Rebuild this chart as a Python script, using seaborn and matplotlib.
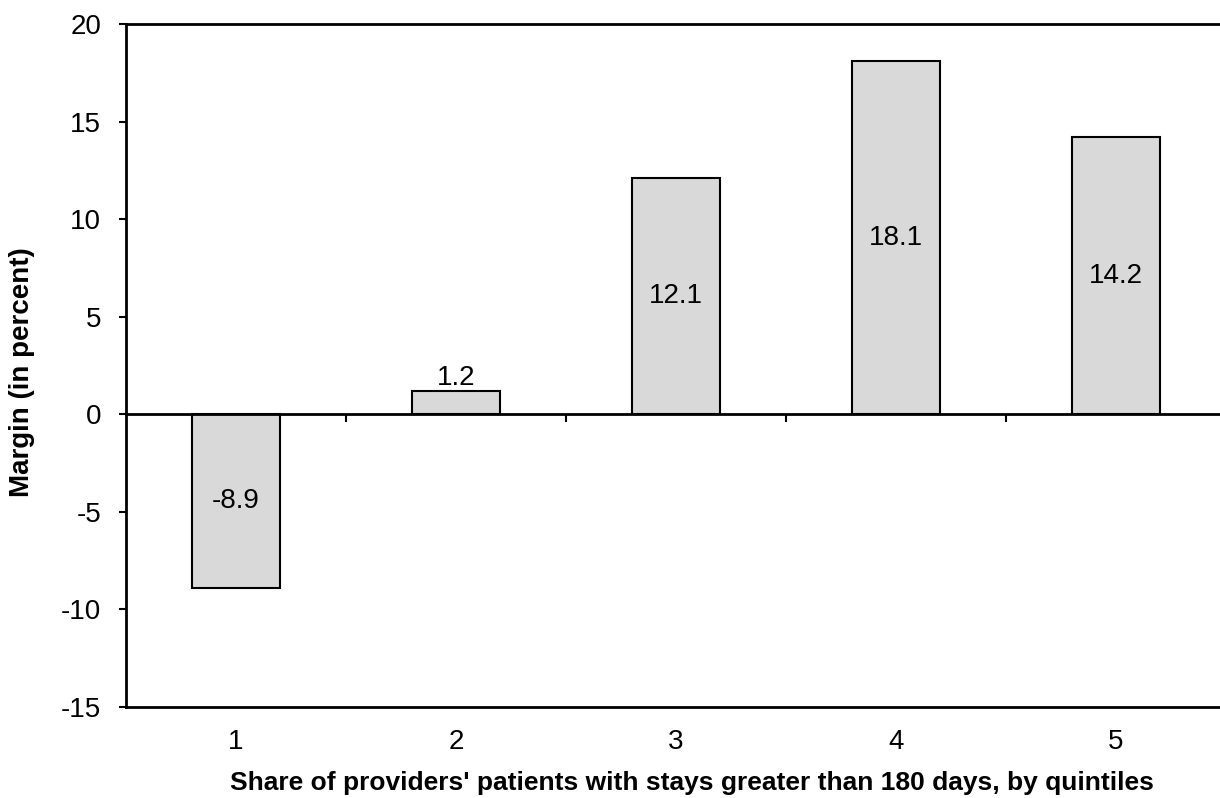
import matplotlib
matplotlib.use("Agg")
import matplotlib.pyplot as plt
import seaborn as sns
import pandas as pd

# Data
quintiles = ["1", "2", "3", "4", "5"]
margins = [-8.9, 1.2, 12.1, 18.1, 14.2]
y_ticks = [-15, -10, -5, 0, 5, 10, 15, 20]
x_label = "Share of providers' patients with stays greater than 180 days, by quintiles"
y_label = "Margin (in percent)"

sns.set_style("white")
plt.rcParams["font.family"] = ["Liberation Sans", "DejaVu Sans"]
plt.rcParams["text.color"] = "black"
plt.rcParams["axes.labelcolor"] = "black"

FS = 20

df = pd.DataFrame({"quintile": quintiles, "margin": margins})

fig = plt.figure(figsize=(12.2, 7.98), dpi=100)
ax = fig.add_axes([126 / 1220, 91 / 798, 1100 / 1220, 683 / 798])

sns.barplot(data=df, x="quintile", y="margin", order=quintiles,
            color="#d9d9d9", saturation=1, edgecolor="black",
            linewidth=1.5, width=0.4, ax=ax)

ax.set_xlim(-0.5, len(quintiles) - 0.5)
ax.set_ylim(min(y_ticks), max(y_ticks))
ax.set_yticks(y_ticks)
ax.set_yticklabels([str(t) for t in y_ticks])

for side in ["left", "top", "bottom"]:
    ax.spines[side].set_visible(True)
    ax.spines[side].set_linewidth(2)
    ax.spines[side].set_color("black")
ax.spines["right"].set_visible(False)

ax.tick_params(axis="y", left=True, direction="out", length=5, width=1.5,
               labelsize=FS, pad=13, colors="black")
ax.tick_params(axis="x", bottom=True, length=0, labelsize=FS, pad=16,
               colors="black")

ax.set_xlabel(x_label, fontsize=19, fontweight="bold", color="black")
ax.set_ylabel(y_label, fontsize=FS, fontweight="bold", color="black")
ax.xaxis.label.set_va("center")
ax.yaxis.label.set_va("center")
ax.xaxis.set_label_coords((692 - 126) / 1100, -(783 - 707) / 683)
ax.yaxis.set_label_coords(-(126 - 22) / 1100, 0.49)

# Bar value labels
container = ax.containers[0]
center_labels = [f"{v:.1f}" if abs(v) >= 3 else "" for v in margins]
edge_labels = [f"{v:.1f}" if abs(v) < 3 else "" for v in margins]
ax.bar_label(container, labels=center_labels, label_type="center",
             fontsize=FS, color="black")
ax.bar_label(container, labels=edge_labels, label_type="edge", padding=0,
             fontsize=FS, color="black")

# Zero line with category-boundary ticks
ax2 = ax.twiny()
ax2.set_xlim(ax.get_xlim())
for side in ["left", "top", "right"]:
    ax2.spines[side].set_visible(False)
ax2.spines["bottom"].set_visible(True)
ax2.spines["bottom"].set_position(("data", 0))
ax2.spines["bottom"].set_linewidth(2)
ax2.spines["bottom"].set_color("black")
ax2.xaxis.set_ticks_position("bottom")
ax2.set_xticks([i + 0.5 for i in range(len(quintiles) - 1)])
ax2.set_xticklabels([])
ax2.tick_params(axis="x", direction="out", length=6, width=1.5, colors="black")
ax2.set_zorder(ax.get_zorder() + 1)
ax2.patch.set_visible(False)

fig.savefig("out.png", dpi=100)
